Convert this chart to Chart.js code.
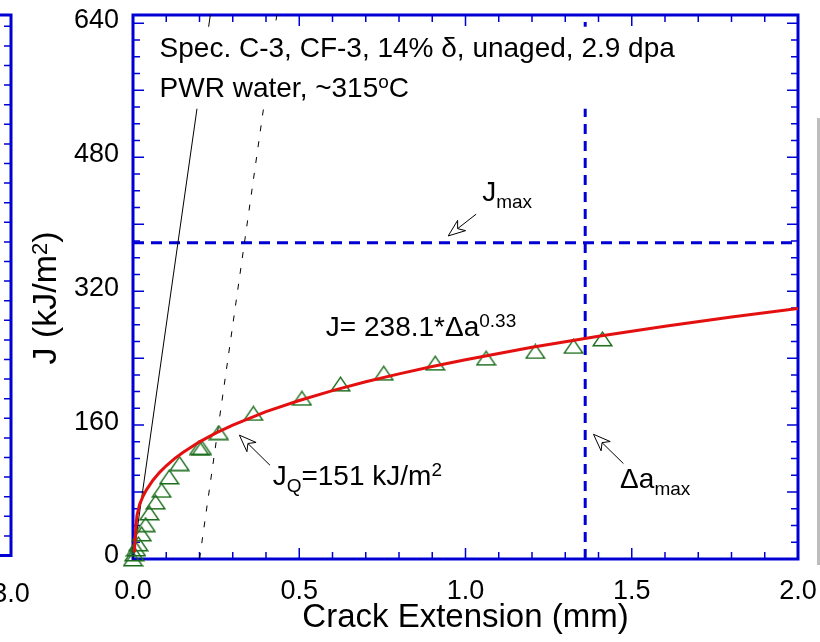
<!DOCTYPE html>
<html>
<head>
<meta charset="utf-8">
<title>J-R curve, Spec. C-3</title>
<script src="https://cdn.jsdelivr.net/npm/chart.js@4.4.0/dist/chart.umd.min.js"></script>
<style>
  body { margin: 0; background: #fff; }
  canvas { display: block; }
</style>
</head>
<body>
<canvas id="jr-chart" width="820" height="642"></canvas>
<script>
// test points: crack extension (mm) and J (kJ/m2)
var test_da = [0.000, 0.004, 0.009, 0.016, 0.026, 0.038, 0.049, 0.068, 0.086, 0.109, 0.140,
               0.199, 0.207, 0.258, 0.362, 0.508, 0.624, 0.754, 0.909, 1.062, 1.210, 1.325, 1.412];
var test_j  = [0, 6, 12, 18, 30, 41, 55, 68, 82, 98, 114,
               133, 133, 151, 174, 192, 209, 222, 234, 240, 248, 254, 263];

// power-law fit J = 238.1*da^0.33
var fit_da = [0.004, 0.008, 0.012, 0.02, 0.03, 0.04, 0.06, 0.08, 0.1, 0.125, 0.15, 0.2, 0.25, 0.3,
              0.4, 0.5, 0.6, 0.7, 0.8, 0.9, 1.0, 1.2, 1.4, 1.6, 1.8, 2.0];
var fit_j  = [8, 35, 52, 65.5, 74.9, 82.3, 94.1, 103.5, 111.4, 119.9, 127.3, 140.0, 150.7, 160.0,
              176.0, 189.4, 201.2, 211.7, 221.2, 230.0, 238.1, 252.9, 266.1, 278.1, 289.1, 299.3];

// blunting line and 0.2 mm offset line
var blunt_da = [0, 0.2325];
var blunt_j = [0, 650];
var offset_da = [0.2, 0.4325];
var offset_j = [0, 650];

// validity limits
var j_max = 378;
var da_max = 1.36;

var x_ticks = [0, 0.5, 1.0, 1.5, 2.0];
var y_ticks = [0, 160, 320, 480, 640];

var blue = '#0000d4';
var family = '"Liberation Sans", Arial, sans-serif';

// text notes, anchored in data units (left edge, baseline); 0 normal, 1 sup, -1 sub
var notes = [
  { da: 0.08, j: 600, parts: [['Spec. C-3, CF-3, 14% \u03b4, unaged, 2.9 dpa', 0]] },
  { da: 0.08, j: 552, parts: [['PWR water, ~315', 0], ['o', 1], ['C', 0]] },
  { da: 1.05, j: 428, parts: [['J', 0], ['max', -1]] },
  { da: 0.58, j: 266, parts: [['J= 238.1*\u0394a', 0], ['0.33', 1]] },
  { da: 0.42, j: 88,  parts: [['J', 0], ['Q', -1], ['=151 kJ/m', 0], ['2', 1]] },
  { da: 1.465, j: 85, parts: [['\u0394a', 0], ['max', -1]] }
];
var arrows = [
  { from: [1.032, 412], to: [0.948, 386] },
  { from: [0.412, 112], to: [0.320, 148] },
  { from: [1.475, 114], to: [1.385, 149] }
];
// white box behind the heading text
var box_da = [0.05, 1.70];
var box_j = [538, 636];

function pts(xs, ys) {
  return xs.map(function (x, i) { return { x: x, y: ys[i] }; });
}

// open triangle marker
var tri = document.createElement('canvas');
tri.width = 21; tri.height = 16;
var tctx = tri.getContext('2d');
tctx.strokeStyle = '#1b6d1b';
tctx.lineWidth = 1.4;
tctx.beginPath();
tctx.moveTo(10.5, 1.2);
tctx.lineTo(19.8, 14.8);
tctx.lineTo(1.2, 14.8);
tctx.closePath();
tctx.stroke();

function drawRich(ctx, x, y, parts, big, small) {
  ctx.textBaseline = 'alphabetic';
  ctx.textAlign = 'left';
  parts.forEach(function (p) {
    var size = p[1] === 0 ? big : small;
    var dy = p[1] === 1 ? -9 : (p[1] === -1 ? 7 : 0);
    ctx.font = size + 'px ' + family;
    ctx.fillText(p[0], x, y + dy);
    x += ctx.measureText(p[0]).width;
  });
  return x;
}

function richWidth(ctx, parts, big, small) {
  var w = 0;
  parts.forEach(function (p) {
    ctx.font = (p[1] === 0 ? big : small) + 'px ' + family;
    w += ctx.measureText(p[0]).width;
  });
  return w;
}

function drawArrow(ctx, x0, y0, x1, y1) {
  var dx = x0 - x1, dy = y0 - y1, d = Math.sqrt(dx * dx + dy * dy);
  var ux = dx / d, uy = dy / d, nx = -uy, ny = ux;
  var L = 17, W = 6.5;
  var nxp = x1 + ux * L * 0.7, nyp = y1 + uy * L * 0.7;
  ctx.beginPath();
  ctx.moveTo(nxp, nyp);
  ctx.lineTo(x0, y0);
  ctx.stroke();
  ctx.beginPath();
  ctx.moveTo(x1, y1);
  ctx.lineTo(x1 + ux * L + nx * W, y1 + uy * L + ny * W);
  ctx.lineTo(nxp, nyp);
  ctx.lineTo(x1 + ux * L - nx * W, y1 + uy * L - ny * W);
  ctx.closePath();
  ctx.fillStyle = '#fff';
  ctx.fill();
  ctx.stroke();
}

// no extra room for tick labels: the plot box is set by the layout padding alone
function noLabelPadding(s) {
  s.paddingLeft = 0; s.paddingRight = 0; s.paddingTop = 0; s.paddingBottom = 0;
}

var frame_plugin = {
  id: 'frame',
  beforeDatasetsDraw: function (chart) {
    var ctx = chart.ctx, a = chart.chartArea, xs = chart.scales.x, ys = chart.scales.y;
    ctx.save();
    ctx.strokeStyle = blue;
    ctx.lineWidth = 1.5;
    ctx.beginPath();
    for (var i = 0; i <= 20; i++) {
      var px = xs.getPixelForValue(i / 10), len = (i % 5 === 0) ? 11 : 7;
      ctx.moveTo(px, a.bottom); ctx.lineTo(px, a.bottom - len);
      ctx.moveTo(px, a.top); ctx.lineTo(px, a.top + len);
    }
    for (var j = 0; j <= 640; j += 20) {
      var py = ys.getPixelForValue(j), len2 = (j % 80 === 0) ? 11 : 7;
      ctx.moveTo(a.left, py); ctx.lineTo(a.left + len2, py);
      ctx.moveTo(a.right, py); ctx.lineTo(a.right - len2, py);
    }
    ctx.stroke();
    ctx.lineWidth = 3;
    ctx.strokeRect(a.left, a.top, a.right - a.left, a.bottom - a.top);

    // right edge of the neighbouring panel
    var ex = 11, eb = 555.5;
    ctx.beginPath();
    ctx.moveTo(0, a.top); ctx.lineTo(ex, a.top); ctx.lineTo(ex, eb); ctx.lineTo(0, eb);
    ctx.stroke();
    ctx.lineWidth = 1.5;
    ctx.beginPath();
    for (var k = eb - 19.6; k > a.top + 5; k -= 19.6) {
      ctx.moveTo(ex, k); ctx.lineTo(ex - 7, k);
    }
    ctx.stroke();
    ctx.fillStyle = '#000';
    ctx.font = '27px ' + family;
    ctx.textAlign = 'center';
    ctx.textBaseline = 'alphabetic';
    ctx.fillText('3.0', ex, 602);

    // edge of the panel on the right
    ctx.fillStyle = '#bdbdbd';
    ctx.fillRect(817, 118, 3, 447);

    // y axis title
    ctx.save();
    ctx.fillStyle = '#000';
    var yparts = [['J (kJ/m', 0], ['2', 1], [')', 0]];
    var w = richWidth(ctx, yparts, 34, 22);
    ctx.translate(56, 298);
    ctx.rotate(-Math.PI / 2);
    drawRich(ctx, -w / 2, 0, yparts, 34, 22);
    ctx.restore();
    ctx.restore();
  },
  afterDatasetsDraw: function (chart) {
    var ctx = chart.ctx, xs = chart.scales.x, ys = chart.scales.y;
    ctx.save();
    var bx0 = xs.getPixelForValue(box_da[0]), bx1 = xs.getPixelForValue(box_da[1]);
    var by0 = ys.getPixelForValue(box_j[1]), by1 = ys.getPixelForValue(box_j[0]);
    ctx.fillStyle = '#fff';
    ctx.fillRect(bx0, by0, bx1 - bx0, by1 - by0);

    ctx.fillStyle = '#000';
    notes.forEach(function (n) {
      drawRich(ctx, xs.getPixelForValue(n.da), ys.getPixelForValue(n.j), n.parts, 28, 19);
    });
    ctx.strokeStyle = '#000';
    ctx.lineWidth = 1;
    arrows.forEach(function (ar) {
      drawArrow(ctx, xs.getPixelForValue(ar.from[0]), ys.getPixelForValue(ar.from[1]),
                xs.getPixelForValue(ar.to[0]), ys.getPixelForValue(ar.to[1]));
    });
    ctx.restore();
  }
};

new Chart(document.getElementById('jr-chart'), {
  type: 'scatter',
  data: {
    datasets: [
      { data: pts(fit_da, fit_j), showLine: true, borderColor: '#e41010', borderWidth: 3, pointRadius: 0, tension: 0 },
      { data: pts(test_da, test_j), pointStyle: tri, pointRadius: 8, clip: false },
      { data: pts(blunt_da, blunt_j), showLine: true, borderColor: '#000', borderWidth: 1, pointRadius: 0 },
      { data: pts(offset_da, offset_j), showLine: true, borderColor: '#000', borderWidth: 1, borderDash: [6, 10], pointRadius: 0 },
      { data: [{ x: 0, y: j_max }, { x: 2, y: j_max }], showLine: true, borderColor: blue, borderWidth: 3, borderDash: [11, 7], pointRadius: 0 },
      { data: [{ x: da_max, y: 0 }, { x: da_max, y: 650 }], showLine: true, borderColor: blue, borderWidth: 3, borderDash: [10, 7], pointRadius: 0 }
    ]
  },
  options: {
    responsive: false,
    animation: false,
    devicePixelRatio: 1,
    layout: { padding: { top: 15, right: 22, left: 0, bottom: 0 } },
    plugins: { legend: { display: false }, tooltip: { enabled: false } },
    scales: {
      x: {
        type: 'linear', min: 0, max: 2,
        afterBuildTicks: function (s) { s.ticks = x_ticks.map(function (v) { return { value: v }; }); },
        afterFit: function (s) { s.height = 83; noLabelPadding(s); },
        grid: { display: false, drawTicks: false },
        border: { display: false },
        ticks: {
          padding: 19, color: '#000', maxRotation: 0, autoSkip: false,
          font: { family: family, size: 27, lineHeight: 1 },
          callback: function (v) { return v.toFixed(1); }
        },
        title: {
          display: true, text: 'Crack Extension (mm)', color: '#000',
          font: { family: family, size: 33, lineHeight: 1.2 },
          padding: { top: 0, bottom: 4 }
        }
      },
      y: {
        type: 'linear', min: 0, max: 650,
        afterBuildTicks: function (s) { s.ticks = y_ticks.map(function (v) { return { value: v }; }); },
        afterFit: function (s) { s.width = 133; noLabelPadding(s); },
        grid: { display: false, drawTicks: false },
        border: { display: false },
        ticks: {
          padding: 14, color: '#000', labelOffset: -3,
          font: { family: family, size: 27, lineHeight: 1 }
        }
      }
    }
  },
  plugins: [frame_plugin]
});
</script>
</body>
</html>
